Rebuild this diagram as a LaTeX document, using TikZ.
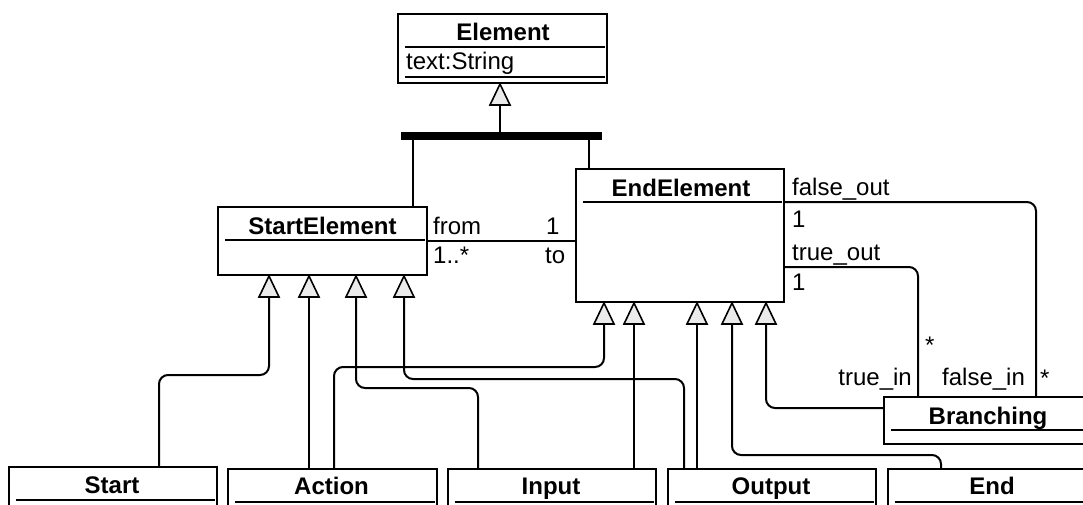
\documentclass[tikz,border=0pt]{standalone}
\usepackage{fontspec}
\setmainfont{Liberation Sans}
\usetikzlibrary{calc}

\tikzset{
  classbox/.style={draw, line width=2pt, inner sep=0pt, anchor=north west, fill=white},
  ctitle/.style={font=\fontsize{24}{28}\selectfont\bfseries, anchor=base, inner sep=0pt},
  lbl/.style={font=\fontsize{24}{28}\selectfont, anchor=base west, inner sep=0pt},
  lblr/.style={font=\fontsize{24}{28}\selectfont, anchor=base east, inner sep=0pt},
  hdr/.style={line width=1.6pt},
  conn/.style={line width=2pt, rounded corners=9pt},
  gentri/.style={draw, line width=1.6pt, fill=black!8, line join=miter},
}

% hollow generalisation arrowhead: tip at #1
\newcommand\umltri[1]{%
  \draw[gentri] (#1) -- ++(-10,21) -- ++(20,0) -- cycle;}

% header rule of a class box, #2 below its top edge
\newcommand\classrule[2]{%
  \draw[hdr] ([xshift=8pt,yshift=-#2pt]#1.north west) -- ([xshift=-3pt,yshift=-#2pt]#1.north east);}

\begin{document}
\begin{tikzpicture}[x=1pt, y=-1pt]
\useasboundingbox (0,0) rectangle (1083,504);
\clip (0,0) rectangle (1083,504);

% ---- classes ----
\node[classbox, minimum width=209, minimum height=69] (cElement) at (397,13) {};
\node[ctitle] (tElement) at (503,40) {Element};
\classrule{cElement}{34}
\node[lbl] (aElement) at (406,69) {text:String};
\classrule{cElement}{64}

\node[fill, inner sep=0pt, minimum width=201, minimum height=8, anchor=north west] (bar) at (401,132) {};

\node[classbox, minimum width=209, minimum height=68] (cStartEl) at (217,206) {};
\node[ctitle] (tStartEl) at (322.5,234) {StartElement};
\classrule{cStartEl}{34}

\node[classbox, minimum width=208, minimum height=133] (cEndEl) at (575,168) {};
\node[ctitle] (tEndEl) at (681,196) {EndElement};
\classrule{cEndEl}{34}

\node[classbox, minimum width=210, minimum height=47] (cBranch) at (883,396) {};
\node[ctitle] (tBranch) at (988,424) {Branching};
\classrule{cBranch}{34}

\node[classbox, minimum width=208, minimum height=80] (cStart)  at (8,466) {};
\node[ctitle] (tStart) at (112,493) {Start};
\classrule{cStart}{34}
\node[classbox, minimum width=209, minimum height=80] (cAction) at (227,468) {};
\node[ctitle] (tAction) at (331.5,494) {Action};
\classrule{cAction}{34}
\node[classbox, minimum width=208, minimum height=80] (cInput)  at (447,468) {};
\node[ctitle] (tInput) at (551,494) {Input};
\classrule{cInput}{34}
\node[classbox, minimum width=208, minimum height=80] (cOutput) at (667,468) {};
\node[ctitle] (tOutput) at (771,494) {Output};
\classrule{cOutput}{34}
\node[classbox, minimum width=208, minimum height=80] (cEnd)    at (887,468) {};
\node[ctitle] (tEnd) at (992,494) {End};
\classrule{cEnd}{34}

% ---- arrowhead tips ----
\coordinate (el0) at ([xshift=-2.5pt]cElement.south);
\coordinate (s1) at ([xshift=-53.5pt]cStartEl.south);
\coordinate (s2) at ([xshift=-13.5pt]cStartEl.south);
\coordinate (s3) at ([xshift=33.5pt]cStartEl.south);
\coordinate (s4) at ([xshift=81.5pt]cStartEl.south);
\coordinate (e1) at ([xshift=-76pt]cEndEl.south);
\coordinate (e2) at ([xshift=-46pt]cEndEl.south);
\coordinate (e3) at ([xshift=17pt]cEndEl.south);
\coordinate (e4) at ([xshift=52pt]cEndEl.south);
\coordinate (e5) at ([xshift=86pt]cEndEl.south);
\coordinate (el0b) at ($(el0)+(0,21)$);
\foreach \t in {s1,s2,s3,s4,e1,e2,e3,e4,e5}{\coordinate (\t b) at ($(\t)+(0,21)$);}

% ---- generalisation tree under Element ----
\draw[conn] (el0b) -- (el0b |- bar.north);
\draw[conn] ([xshift=-88.5pt]bar.south) coordinate (bl) -- (bl |- cStartEl.north);
\draw[conn] ([xshift=87.5pt]bar.south) coordinate (br) -- (br |- cEndEl.north);

% ---- subclasses to StartElement ----
\draw[conn] ([xshift=46pt]cStart.north) -- ++(0,-91) -| (s1b);
\draw[conn] (s2b |- cAction.north) -- (s2b);
\draw[conn] ([xshift=-74pt]cInput.north) -- ++(0,-80) -| (s3b);
\draw[conn] ([xshift=-88pt]cOutput.north) -- ++(0,-89) -| (s4b);

% ---- subclasses to EndElement ----
\draw[conn] ([xshift=1.5pt]cAction.north) -- ++(0,-101) -| (e1b);
\draw[conn] (e2b |- cInput.north) -- (e2b);
\draw[conn] (e3b |- cOutput.north) -- (e3b);
\draw[conn] ([xshift=-51pt]cEnd.north) -- ++(0,-13) -| (e4b);
\draw[conn] ([yshift=12.5pt]cBranch.west) -| (e5b);

% ---- arrowheads ----
\umltri{el0}
\foreach \t in {s1,s2,s3,s4,e1,e2,e3,e4,e5}{\umltri{\t}}

% ---- associations ----
\draw[conn] (cStartEl.east) -- (cStartEl.east -| cEndEl.west);
\draw[conn] ([yshift=-34pt]cEndEl.north east) -| ([xshift=47pt]cBranch.north);
\draw[conn] ([yshift=-99pt]cEndEl.north east) -| ([xshift=-71pt]cBranch.north);

% ---- role names and multiplicities ----
\node[lbl] (lFrom) at (433,234) {from};
\node[lbl] (lOne) at (546,234) {1};
\node[lbl] (lMany) at (433,263) {1..*};
\node[lbl] (lTo) at (545,263) {to};
\node[lbl] (lFo) at (792,195) {false\_out};
\node[lbl] (lFo1) at (792,227) {1};
\node[lbl] (lTo2) at (792,260) {true\_out};
\node[lbl] (lTo1) at (792,290) {1};
\node[lbl] (lTs) at (925,353) {*};
\node[lblr] (lTi) at (912,385) {true\_in};
\node[lbl] (lFi) at (942,385) {false\_in};
\node[lbl] (lFs) at (1040,386) {*};
\end{tikzpicture}
\end{document}
